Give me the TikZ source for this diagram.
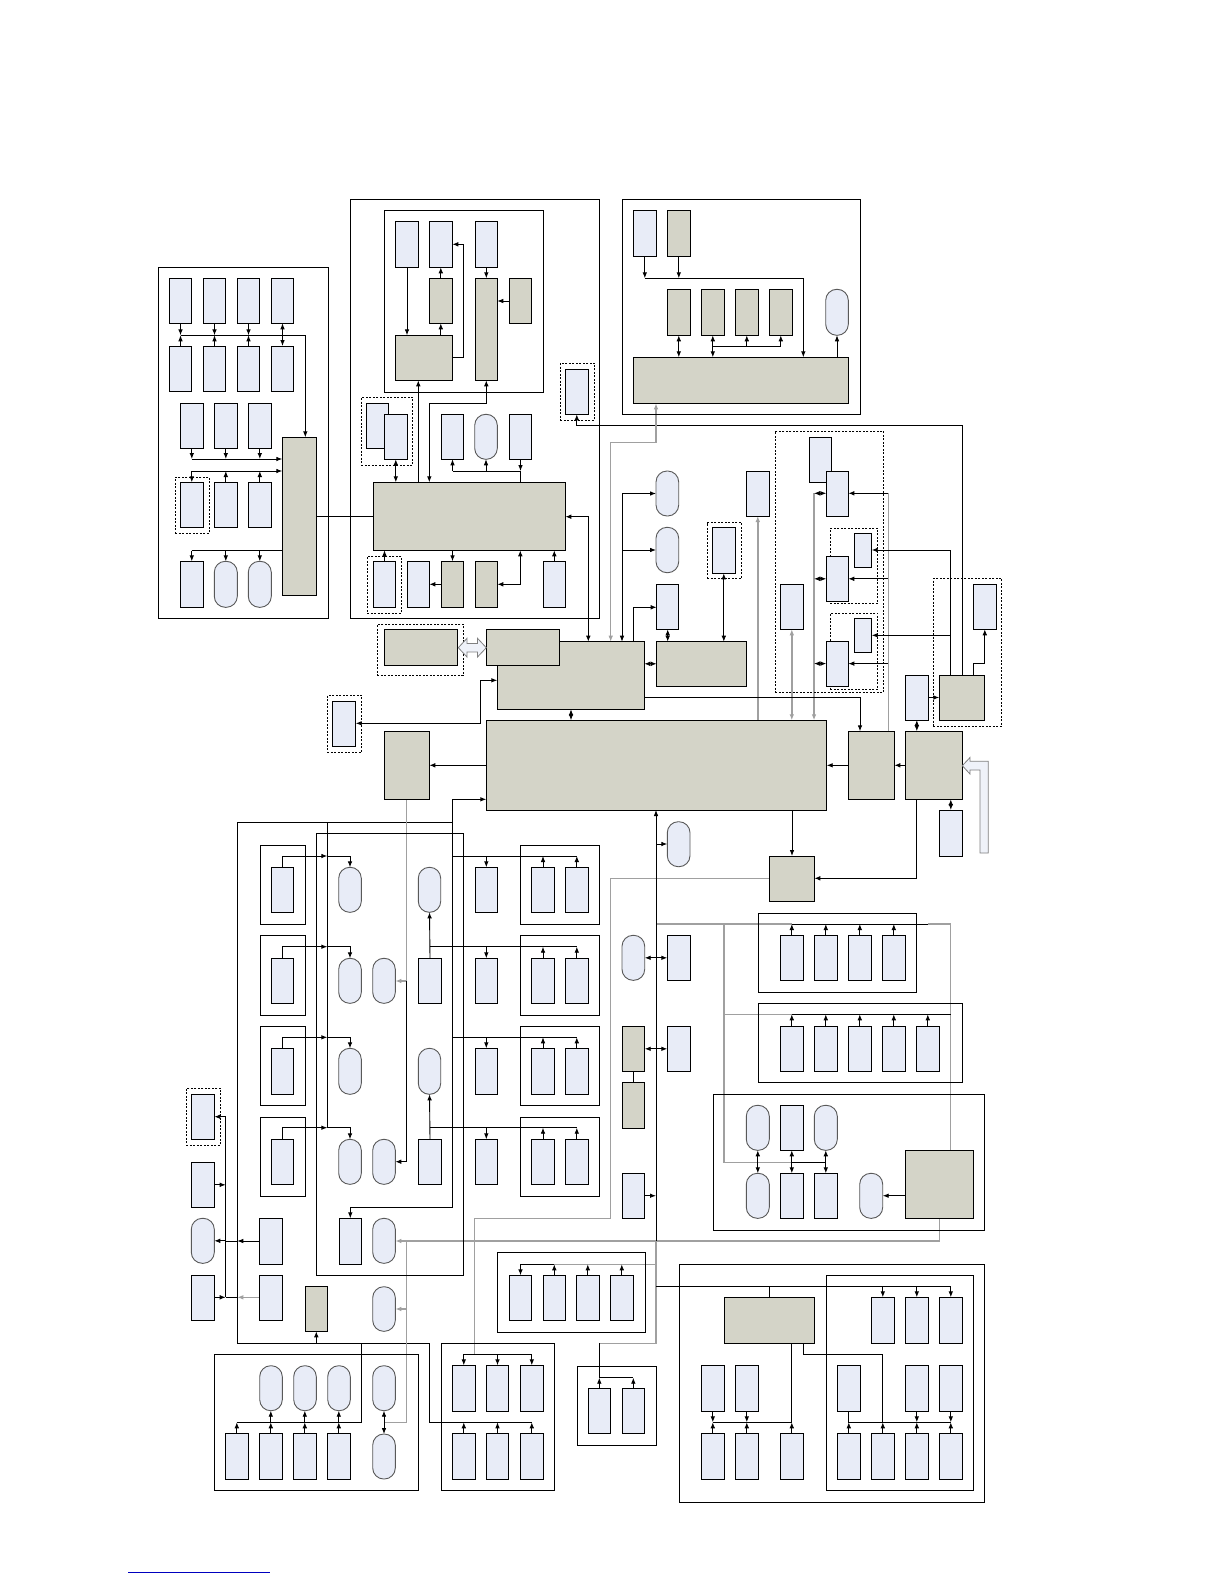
\documentclass[tikz,border=0pt]{standalone}
\usetikzlibrary{arrows.meta}
\definecolor{lbf}{HTML}{E8ECF7}
\definecolor{gbf}{HTML}{D4D4C8}
\definecolor{gln}{HTML}{A0A0A0}
\pgfdeclarelayer{back}
\pgfdeclarelayer{bg}
\pgfsetlayers{back,bg,main}
\newcommand{\bx}[6]{\node[#1,anchor=north west,minimum width={(#5)-(#3)},minimum height={(#6)-(#4)}] (#2) at (#3,-#4) {};}
\tikzset{
  base/.style={rectangle,inner sep=0pt,outer sep=0pt},
  lb/.style={base,draw,fill=lbf,line width=0.9pt},
  gb/.style={base,draw,fill=gbf,line width=0.9pt},
  ov/.style={base,draw=black!65,fill=lbf,line width=0.9pt,rounded corners=11pt},
  frm/.style={base,draw,line width=1pt},
  dsh/.style={base,draw,line width=0.8pt,dash pattern=on 2pt off 1.5pt},
  ln/.style={line width=0.9pt},
  gl/.style={draw=gln,line width=1.4pt},
  hol/.style={fill=lbf!70,draw=gray,line width=0.8pt}
}
\begin{document}
\begin{tikzpicture}[x=1pt,y=1pt,>={Latex[length=6pt,width=4.6pt]}]
\begin{pgfonlayer}{back}
\fill[white] (0,0) rectangle (1224,-1584);
\end{pgfonlayer}
\useasboundingbox (0,0) rectangle (1224,-1584);

% ---------------- left frame
\bx{frm}{LF}{158.3}{267.3}{328.3}{618.3}
\bx{lb}{a1}{169.3}{278.3}{191.7}{323.3}
\bx{lb}{a2}{203.3}{278.3}{225.7}{323.3}
\bx{lb}{a3}{237.3}{278.3}{259.7}{323.3}
\bx{lb}{a4}{271.3}{278.3}{293.7}{323.3}
\bx{lb}{b1}{169.3}{346}{191.7}{391.3}
\bx{lb}{b2}{203.3}{346}{225.7}{391.3}
\bx{lb}{b3}{237.3}{346}{259.7}{391.3}
\bx{lb}{b4}{271.3}{346}{293.7}{391.3}
\bx{lb}{c1}{180.3}{403.3}{203.3}{448.3}
\bx{lb}{c2}{214.3}{403.3}{237.3}{448.3}
\bx{lb}{c3}{248.3}{403.3}{271.3}{448.3}
\bx{dsh}{d1g}{175.3}{477.3}{209.3}{533.3}
\bx{lb}{d1}{180.3}{482.3}{203.3}{527.3}
\bx{lb}{d2}{214.3}{482.3}{237.3}{527.3}
\bx{lb}{d3}{248.3}{482.3}{271.3}{527.3}
\bx{lb}{e1}{180.3}{561.3}{203.3}{607.3}
\bx{ov}{e2}{214.3}{561.3}{237.3}{607.3}
\bx{ov}{e3}{248.3}{561.3}{271.3}{607.3}
\bx{gb}{LG}{282.3}{437.3}{316.3}{595.3}

% ---------------- centre frame
\bx{frm}{CF}{350.3}{199.3}{599.3}{618.3}
\bx{frm}{CFi}{384.3}{210.3}{543.3}{392.3}
\bx{lb}{A}{395.3}{221.3}{418.3}{267.3}
\bx{lb}{B}{429.3}{221.3}{452.3}{267.3}
\bx{lb}{C}{475.3}{221.3}{497.3}{267.3}
\bx{gb}{D}{429.3}{278.3}{452.3}{323.3}
\bx{gb}{E}{395.3}{335.3}{452.3}{380.3}
\bx{gb}{F}{475.3}{278.3}{497.3}{380.3}
\bx{gb}{G}{509.3}{278.3}{531.7}{323.3}
\bx{dsh}{DG}{361.3}{397.3}{412.7}{465.3}
\bx{lb}{DGa}{366.3}{403.3}{388.7}{448.3}
\bx{lb}{DGb}{384.3}{414.3}{407.3}{459.3}
\bx{lb}{h1}{441.3}{414.3}{463.7}{459.3}
\bx{ov}{h2}{474.7}{414.3}{497.3}{459.3}
\bx{lb}{h3}{509.3}{414.3}{531.7}{459.3}
\bx{gb}{CG}{373.3}{482.3}{565.3}{550.3}
\bx{dsh}{BDG}{367.3}{556.3}{401.3}{613.3}
\bx{lb}{BD}{373.3}{561.3}{395.7}{607.3}
\bx{lb}{bx1}{407.3}{561.3}{429.3}{607.3}
\bx{gb}{bg1}{441.3}{561.3}{463.7}{607.3}
\bx{gb}{bg2}{475.3}{561.3}{497.3}{607.3}
\bx{lb}{bx2}{543.3}{561.3}{565.3}{607.3}

% ---------------- top right frame
\bx{frm}{TF}{622}{199.3}{860.3}{414}
\bx{lb}{t1}{633.3}{210.3}{656.3}{256}
\bx{gb}{t2}{667.3}{210.3}{690.3}{256}
\bx{gb}{u1}{667.3}{289.3}{690.3}{335.3}
\bx{gb}{u2}{701.3}{289.3}{724.3}{335.3}
\bx{gb}{u3}{735.3}{289.3}{758.3}{335.3}
\bx{gb}{u4}{769.3}{289.3}{792.3}{335.3}
\bx{ov}{tov}{825.7}{289.3}{848.3}{335.3}
\bx{gb}{TG}{633.3}{357.3}{848.3}{403.3}
\bx{dsh}{SD}{560.3}{363}{594.7}{420}
\bx{lb}{SDi}{565.3}{369.3}{588.3}{414.3}

% ---------------- right upper group
\bx{lb}{R}{746.3}{471}{769.3}{516}
\bx{dsh}{RD}{775.3}{431}{883.7}{692.3}
\bx{lb}{T1}{809.3}{437.3}{831.3}{482.3}
\bx{lb}{T2}{826.3}{471}{848.3}{516}
\bx{lb}{S}{780.3}{584.3}{803.3}{629.3}
\bx{dsh}{UD}{830.3}{528.3}{877.7}{603.3}
\bx{lb}{U1}{854.3}{533.3}{871.7}{567.3}
\bx{lb}{U2}{826.3}{556.3}{848.3}{601.3}
\bx{dsh}{VD}{830.3}{613.3}{877.7}{689.3}
\bx{lb}{V1}{854.3}{618.3}{871.7}{652.3}
\bx{lb}{V2}{826.3}{641.3}{848.3}{686}
\bx{dsh}{WD}{933.3}{578.3}{1001.7}{726.3}
\bx{gb}{W}{939.3}{675}{984.3}{720}
\bx{lb}{Xb}{973.3}{584.3}{996.3}{629.3}
\bx{lb}{Yb}{905.3}{675}{928.3}{720}
\bx{gb}{Z}{905.3}{731.3}{962.3}{799.3}
\bx{gb}{Q}{848.3}{731.3}{894.3}{799.3}
\bx{lb}{AA}{939.3}{810}{962.3}{856}
\bx{gb}{BB}{769.3}{856}{814.3}{901}

% ---------------- middle
\bx{ov}{ov1}{656}{471}{678.7}{516}
\bx{ov}{ov2}{656}{527.3}{678.7}{572.7}
\bx{lb}{I}{656.7}{584.3}{678.7}{629.3}
\bx{dsh}{SD2}{707.3}{522.7}{741.7}{578.3}
\bx{lb}{SD2i}{712.3}{527.3}{735.3}{573.3}
\bx{gb}{H}{497.3}{641.7}{644.3}{709.3}
\bx{gb}{K}{486.3}{629.3}{559.3}{665.3}
\bx{gb}{J}{656.7}{641.7}{746.3}{686}
\bx{dsh}{L}{377.3}{624.3}{463.3}{675.3}
\bx{gb}{Li}{384.3}{629.3}{457.3}{665.3}
\bx{dsh}{M}{327.3}{695.3}{361.7}{752.3}
\bx{lb}{Mi}{332.3}{701.3}{355.7}{746.7}
\bx{gb}{N}{384.3}{731.3}{429.3}{799.3}
\bx{gb}{P}{486.3}{720.3}{826.7}{810}

% hollow arrows
\filldraw[hol] (458.3,-647.7) -- (467,-638.3) -- (467,-643.5) -- (477.5,-643.5) -- (477.5,-638.3) -- (486.3,-647.7) -- (477.5,-657) -- (477.5,-651.9) -- (467,-651.9) -- (467,-657) -- cycle;
\filldraw[hol] (962.3,-765.7) -- (970,-757.5) -- (970,-761.3) -- (988.3,-761.3) -- (988.3,-853) -- (980,-853) -- (980,-770) -- (970,-770) -- (970,-774) -- cycle;

% ---------------- lower left
\bx{frm}{IF}{316.3}{833.3}{463.3}{1275}
\foreach \n/\t/\b/\bt/\bb in {1/845/924/867.3/912.3,2/935.3/1015/958.3/1003.3,3/1026.3/1105.3/1048.3/1094.3,4/1117.3/1196/1139.3/1184.3}{
  \bx{frm}{sf\n}{260.3}{\t}{305.3}{\b}
  \bx{lb}{sb\n}{271.3}{\bt}{293.7}{\bb}
  \bx{ov}{oc\n}{338.7}{\bt}{361.3}{\bb}
  \bx{lb}{cb\n}{475.3}{\bt}{497.3}{\bb}
  \bx{frm}{rf\n}{520.3}{\t}{599.3}{\b}
  \bx{lb}{rfa\n}{531.3}{\bt}{554.7}{\bb}
  \bx{lb}{rfb\n}{565.3}{\bt}{588.3}{\bb}
}
\bx{ov}{od2}{372.7}{958.3}{395.3}{1003.3}
\bx{ov}{od4}{372.7}{1139.3}{395.3}{1184.3}
\bx{ov}{oe1}{418.3}{867.3}{440.7}{912.3}
\bx{lb}{be2}{418.3}{958.3}{441.7}{1003.3}
\bx{ov}{oe3}{418.3}{1048.3}{440.7}{1094.3}
\bx{lb}{be4}{418.3}{1139.3}{441.7}{1184.3}
\bx{dsh}{LD}{186.3}{1088.3}{220.7}{1145}
\bx{lb}{ld}{191.3}{1094.3}{214.3}{1139.3}
\bx{lb}{lb1}{191.3}{1162.3}{214.3}{1207.3}
\bx{ov}{lo}{191.3}{1218.3}{214.3}{1263.3}
\bx{lb}{lb2}{191.3}{1275.7}{214.3}{1320.3}
\bx{lb}{ob1}{259.3}{1218.3}{282.3}{1264.3}
\bx{lb}{ob2}{259.3}{1275.7}{282.3}{1320.3}
\bx{gb}{ogb}{305.3}{1286.7}{327.3}{1331.3}
\bx{lb}{ib}{339.3}{1218.3}{361.3}{1264.3}
\bx{ov}{oo1}{372.7}{1218.3}{395.3}{1263.3}
\bx{ov}{oo2}{372.7}{1286.7}{395.3}{1331.3}
% bottom left frame
\bx{frm}{BLF}{214.3}{1354}{418.3}{1490}
\bx{ov}{blo1}{259.7}{1365.7}{282.3}{1410.7}
\bx{ov}{blo2}{293.7}{1365.7}{316.3}{1410.7}
\bx{ov}{blo3}{327.7}{1365.7}{350.3}{1410.7}
\bx{ov}{blo4}{372.7}{1365.7}{395.3}{1410.7}
\bx{lb}{blb1}{225.3}{1433.3}{248.3}{1479}
\bx{lb}{blb2}{259.3}{1433.3}{282.3}{1479}
\bx{lb}{blb3}{293.3}{1433.3}{316.3}{1479}
\bx{lb}{blb4}{327.3}{1433.3}{350.3}{1479}
\bx{ov}{blo5}{372.7}{1434}{395.3}{1479}

% ---------------- middle column
\bx{ov}{mo1}{667.3}{821.7}{690}{866.7}
\bx{ov}{mo2}{622}{935.3}{644.7}{980.3}
\bx{lb}{mb1}{667.3}{935.3}{690.3}{980.3}
\bx{gb}{mg1}{622}{1026.3}{644.7}{1071.3}
\bx{lb}{mb2}{667.3}{1026.3}{690.3}{1071.3}
\bx{gb}{mg2}{622}{1082.3}{644.7}{1128}
\bx{lb}{mb3}{622}{1173.3}{644.7}{1218.3}

% ---------------- right middle frames
\bx{frm}{fr1}{758.3}{913.3}{916.3}{992.3}
\bx{lb}{f1a}{780.3}{935.3}{803.3}{980.3}
\bx{lb}{f1b}{814.3}{935.3}{837.3}{980.3}
\bx{lb}{f1c}{848.3}{935.3}{871.3}{980.3}
\bx{lb}{f1d}{882.3}{935.3}{905.3}{980.3}
\bx{frm}{fr2}{758.3}{1003.3}{962.3}{1082.3}
\bx{lb}{f2a}{780.3}{1026.3}{803.3}{1071.3}
\bx{lb}{f2b}{814.3}{1026.3}{837.3}{1071.3}
\bx{lb}{f2c}{848.3}{1026.3}{871.3}{1071.3}
\bx{lb}{f2d}{882.3}{1026.3}{905.3}{1071.3}
\bx{lb}{f2e}{916.3}{1026.3}{939.3}{1071.3}
\bx{frm}{fr3}{713.3}{1094.3}{984.3}{1230}
\bx{ov}{f3o1}{746.3}{1105.3}{769.3}{1150.3}
\bx{lb}{f3b1}{780.3}{1105.3}{803.3}{1150.3}
\bx{ov}{f3o2}{814.3}{1105.3}{837.3}{1150.3}
\bx{ov}{f3o3}{746.3}{1173.3}{769.3}{1218.3}
\bx{lb}{f3b2}{780.3}{1173.3}{803.3}{1218.3}
\bx{lb}{f3b3}{814.3}{1173.3}{837.3}{1218.3}
\bx{ov}{f3o4}{859.7}{1173.3}{882.7}{1218.3}
\bx{gb}{f3g}{905.3}{1150.3}{973.3}{1218.3}

% ---------------- bottom middle
\bx{frm}{sf5}{497.3}{1252.3}{645.3}{1332.3}
\bx{lb}{s5a}{509.3}{1275.3}{531.7}{1320.3}
\bx{lb}{s5b}{543.3}{1275.3}{565.3}{1320.3}
\bx{lb}{s5c}{576.3}{1275.3}{599.3}{1320.3}
\bx{lb}{s5d}{610.3}{1275.3}{633.3}{1320.3}
\bx{frm}{bmf}{441.3}{1343.3}{554.7}{1490}
\bx{lb}{bm1}{452.3}{1365.3}{475.3}{1411}
\bx{lb}{bm2}{486.3}{1365.3}{508.7}{1411}
\bx{lb}{bm3}{520.3}{1365.3}{543.3}{1411}
\bx{lb}{bm4}{452.3}{1433.3}{475.3}{1479}
\bx{lb}{bm5}{486.3}{1433.3}{508.7}{1479}
\bx{lb}{bm6}{520.3}{1433.3}{543.3}{1479}
\bx{frm}{sf6}{577.3}{1366.3}{656.3}{1445.3}
\bx{lb}{s6a}{588.3}{1388.3}{610.3}{1433.3}
\bx{lb}{s6b}{622.3}{1388.3}{644.3}{1433.3}

% ---------------- bottom right
\bx{frm}{brf}{679.3}{1264.3}{984.3}{1502}
\bx{frm}{brif}{826.3}{1275.7}{973.3}{1490}
\bx{gb}{brg}{724.3}{1297.3}{814.3}{1343.3}
\bx{lb}{r1a}{871.3}{1297.3}{894.3}{1343.3}
\bx{lb}{r1b}{905.3}{1297.3}{928.3}{1343.3}
\bx{lb}{r1c}{939.3}{1297.3}{962.3}{1343.3}
\bx{lb}{r2a}{837.3}{1365.3}{860.3}{1411}
\bx{lb}{r2b}{905.3}{1365.3}{928.3}{1411}
\bx{lb}{r2c}{939.3}{1365.3}{962.3}{1411}
\bx{lb}{r3a}{837.3}{1433.3}{860.3}{1479}
\bx{lb}{r3b}{871.3}{1433.3}{894.3}{1479}
\bx{lb}{r3c}{905.3}{1433.3}{928.3}{1479}
\bx{lb}{r3d}{939.3}{1433.3}{962.3}{1479}
\bx{lb}{l2a}{701.3}{1365.3}{724.3}{1411}
\bx{lb}{l2b}{735.3}{1365.3}{758.3}{1411}
\bx{lb}{l3a}{701.3}{1433.3}{724.3}{1479}
\bx{lb}{l3b}{735.3}{1433.3}{758.3}{1479}
\bx{lb}{l3c}{780.3}{1433.3}{803.3}{1479}

\draw[blue!75!black,line width=0.8pt] (128.3,-1572.5) -- (269.7,-1572.5);

% ================= connectors
\begin{pgfonlayer}{bg}
% left frame
\draw[ln,->] (180.5,-335.3) -| (305.3,-437.3);
\foreach \x in {180.5,214.5,248.5}{\draw[ln,->] (\x,-323.3) -- (\x,-335.3); \draw[ln,->] (\x,-346) -- (\x,-335.3);}
\draw[ln,<->] (a4.south) -- (b4.north);
\draw[ln,->] (191.8,-459) -- (282.3,-459);
\foreach \x in {191.8,225.8,259.8}{\draw[ln,->] (\x,-448.3) -- (\x,-459);}
\draw[ln,->] (191.8,-471) -- (282.3,-471);
\draw[ln,->] (191.8,-471) -- (d1.north);
\draw[ln,->] (d2.north) -- (225.8,-471);
\draw[ln,->] (d3.north) -- (259.8,-471);
\draw[ln] (191.8,-550.7) -- (282.3,-550.7);
\foreach \x in {191.8,225.8,259.8}{\draw[ln,->] (\x,-550.7) -- (\x,-561.3);}
\draw[ln] (316.3,-516.7) -- (373.3,-516.7);
% centre frame
\draw[ln,->] (407,-267.3) -- (407,-335.3);
\draw[ln,->] (440.8,-278.3) -- (440.8,-267.3);
\draw[ln,->] (440.8,-335.3) -- (440.8,-323.3);
\draw[ln,->] (452.3,-357) -- (463.3,-357) -- (463.3,-244.3) -- (452.3,-244.3);
\draw[ln,->] (C.south) -- (F.north);
\draw[ln,->] (509.3,-301) -- (497.3,-301);
\draw[ln,<->] (395.8,-459.3) -- (395.8,-482.3);
\draw[ln,->] (418.3,-482.3) -- (418.3,-380.3);
\draw[ln,<->] (486.3,-380.3) -- (486.3,-403.3) -- (429.3,-403.3) -- (429.3,-482.3);
\draw[ln] (452.5,-471) -- (520.5,-471) -- (520.5,-482.3);
\draw[ln,->] (452.5,-471) -- (452.5,-459.3);
\draw[ln,->] (486,-471) -- (486,-459.3);
\draw[ln,->] (520.5,-459.3) -- (520.5,-471);
\draw[ln,->] (384.5,-561.3) -- (384.5,-550.3);
\draw[ln,->] (452.5,-550.3) -- (452.5,-561.3);
\draw[ln,->] (441.3,-584.3) -- (429.3,-584.3);
\draw[ln,<->] (497.3,-584.3) -- (520.3,-584.3) -- (520.3,-550.3);
\draw[ln,->] (554.3,-561.3) -- (554.3,-550.3);
\draw[ln,<->] (565.3,-516.7) -- (588.3,-516.7) -- (588.3,-641.7);
% top right frame
\draw[ln,->] (644.8,-256) -- (644.8,-278.3);
\draw[ln,->] (678.8,-256) -- (678.8,-278.3);
\draw[ln,->] (644.8,-278.3) -- (803.3,-278.3) -- (803.3,-357.3);
\draw[ln,<->] (678.8,-335.3) -- (678.8,-357.3);
\draw[ln,<->] (712.8,-335.3) -- (712.8,-357.3);
\draw[ln] (712.8,-346) -- (780.8,-346);
\draw[ln,->] (746.8,-346) -- (746.8,-335.3);
\draw[ln,->] (780.8,-346) -- (780.8,-335.3);
\draw[ln,->] (837,-357.3) -- (837,-335.3);
\draw[ln,->] (962.3,-675) -- (962.3,-425.7) -- (576.8,-425.7) -- (576.8,-414.3);
\draw[gl,<->] (656,-403.3) -- (656,-442.3) -- (610.7,-442.3) -- (610.7,-641.7);
% right upper group
\draw[gl,->] (757.8,-720.3) -- (757.8,-516);
\draw[gl,<->] (791.8,-629.3) -- (791.8,-720.3);
\draw[gl,->] (814,-493.3) -- (814,-720.3);
\foreach \y in {493.3,578.8,663.6}{\draw[ln,<->] (814,-\y) -- (826.3,-\y); \draw[ln,->] (888.3,-\y) -- (848.3,-\y);}
\draw[gl] (888.3,-493.3) -- (888.3,-731.3);
\draw[ln,->] (950.7,-675) -- (950.7,-550) -- (871.7,-550);
\draw[ln,->] (950.7,-635.3) -- (871.7,-635.3);
\draw[ln,->] (973.3,-675) -- (973.3,-663.3) -- (984.8,-663.3) -- (984.8,-629.3);
\draw[ln,->] (928.3,-697.5) -- (939.3,-697.5);
\draw[ln,<->] (916.8,-720) -- (916.8,-731.3);
\draw[ln,->] (905.3,-765.3) -- (894.3,-765.3);
\draw[ln,->] (848.3,-765.3) -- (826.7,-765.3);
\draw[ln,<->] (950.8,-799.3) -- (950.8,-810);
\draw[ln,->] (916.8,-799.3) -- (916.8,-878.3) -- (814.3,-878.3);
\draw[ln,->] (792,-810) -- (792,-856);
\draw[ln,->] (644.3,-697.7) -- (860,-697.7) -- (860,-731.3);
% middle
\draw[ln,->] (622,-493.5) -- (656,-493.5);
\draw[ln,->] (622,-550) -- (656,-550);
\draw[ln,->] (622,-493.5) -- (622,-641.7);
\draw[ln,->] (633.3,-641.7) -- (633.3,-607.3) -- (656.7,-607.3);
\draw[ln,<->] (667.7,-629.3) -- (667.7,-641.7);
\draw[ln,<->] (644.3,-663.8) -- (656.7,-663.8);
\draw[ln,<->] (723.8,-573.3) -- (723.8,-641.7);
\draw[ln,<->] (497.3,-680.3) -- (480.7,-680.3) -- (480.7,-723.3) -- (355.7,-723.3);
\draw[ln,->] (486.3,-765.3) -- (429.3,-765.3);
\draw[ln,<->] (571,-709.3) -- (571,-720.3);
% lower left bus network
\draw[ln,->] (452.3,-799.3) -- (486.3,-799.3);
\draw[ln,->] (452.3,-799.3) -- (452.3,-1207.3) -- (350.3,-1207.3) -- (350.3,-1218.3);
\draw[ln] (452.3,-822.3) -- (237.3,-822.3) -- (237.3,-1343.3) -- (429.3,-1343.3) -- (429.3,-1422.3) -- (531.8,-1422.3);
\draw[ln] (327.3,-822.3) -- (327.3,-1127.7);
\draw[ln] (361.3,-1343.3) -- (361.3,-1422.3) -- (236.8,-1422.3);
\draw[ln,->] (236.8,-1433.3) -- (236.8,-1422.3);
\foreach \x in {270.8,304.8,338.8}{\draw[ln,->] (\x,-1422.3) -- (\x,-1410.7); \draw[ln,->] (\x,-1433.3) -- (\x,-1422.3);}
\draw[ln,->] (316.3,-1343.3) -- (316.3,-1331.3);
\foreach \y/\t in {856/867.3,946.7/958.3,1037.3/1048.3,1127.7/1139.3}{
  \draw[ln,->] (282.5,-\t) -- (282.5,-\y) -- (327.3,-\y);
  \draw[ln,->] (327.3,-\y) -- (350,-\y) -- (350,-\t);
  \draw[ln,->] (486.3,-\y) -- (486.3,-\t);
  \draw[ln,->] (543,-\t) -- (543,-\y);
  \draw[ln,->] (576.8,-\t) -- (576.8,-\y);
}
\draw[ln] (452.3,-856) -- (576.8,-856);
\draw[ln] (429.8,-946.7) -- (576.8,-946.7);
\draw[ln] (452.3,-1037.3) -- (576.8,-1037.3);
\draw[ln] (429.8,-1127.7) -- (576.8,-1127.7);
\draw[ln,->] (be2.north) -- (oe1.south);
\draw[ln,->] (be4.north) -- (oe3.south);
\draw[gl,->] (406.7,-799.3) -- (406.7,-981) -- (395.3,-981);
\draw[ln,->] (406.7,-981) -- (406.7,-1161.7) -- (395.3,-1161.7);
\draw[ln] (225.7,-1116.7) -- (225.7,-1297.3);
\draw[ln,->] (225.7,-1116.7) -- (214.3,-1116.7);
\draw[ln,->] (214.3,-1184.8) -- (225.7,-1184.8);
\draw[ln,->] (225.7,-1240.8) -- (214.3,-1240.8);
\draw[ln,->] (214.3,-1297.3) -- (225.7,-1297.3);
\draw[ln,->] (259.3,-1241) -- (237.3,-1241);
\draw[ln] (237.3,-1241) -- (225.7,-1241);
\draw[gl,->] (259.3,-1297.3) -- (237.3,-1297.3);
\draw[ln] (237.3,-1297.3) -- (225.7,-1297.3);
\draw[gl,->] (939.3,-1218.3) -- (939.3,-1241) -- (395.3,-1241);
\draw[gl,->] (406.7,-1241) -- (406.7,-1309) -- (395.3,-1309);
\draw[gl] (406.7,-1309) -- (406.7,-1422.3) -- (384,-1422.3);
\draw[ln,<->] (384,-1410.7) -- (384,-1434);
% middle column
\draw[gl] (769.3,-878.3) -- (610.7,-878.3) -- (610.7,-1218.3) -- (474.7,-1218.3) -- (474.7,-1354);
\draw[ln] (463.8,-1354) -- (531.8,-1354);
\foreach \x in {463.8,497.5,531.8}{\draw[ln,->] (\x,-1354) -- (\x,-1365.3); \draw[ln,->] (\x,-1433.3) -- (\x,-1422.3);}
\draw[gl] (656,-924) -- (792,-924);
\draw[ln] (792,-924) -- (928.3,-924);
\draw[gl] (928.3,-924) -- (950.7,-924) -- (950.7,-1150.3);
\foreach \x in {791.8,825.8,859.8,893.8}{\draw[ln,->] (\x,-935.3) -- (\x,-924);}
\draw[gl] (724,-924) -- (724,-1162.3) -- (792,-1162.3);
\draw[gl] (724,-1014.3) -- (792,-1014.3);
\draw[ln] (792,-1014.3) -- (950.7,-1014.3);
\foreach \x in {791.8,825.8,859.8,893.8,927.8}{\draw[ln,->] (\x,-1026.3) -- (\x,-1014.3);}
\draw[ln] (792,-1162.3) -- (825.8,-1162.3);
\foreach \x in {757.8,791.8,825.8}{\draw[ln,<->] (\x,-1150.3) -- (\x,-1173.3);}
\draw[ln,->] (905.3,-1195.7) -- (882.7,-1195.7);
\draw[gl] (656,-1241) -- (656,-1343.3) -- (599.3,-1343.3);
\draw[ln,->] (656,-1241) -- (656,-810);
\draw[ln,->] (656,-844) -- (667.3,-844);
\draw[ln,<->] (644.7,-957.8) -- (667.3,-957.8);
\draw[ln,<->] (644.7,-1048.8) -- (667.3,-1048.8);
\draw[ln] (633.3,-1071.3) -- (633.3,-1082.3);
\draw[ln,->] (644.7,-1195.7) -- (656,-1195.7);
\draw[ln] (599.3,-1343.3) -- (599.3,-1377.7) -- (633.3,-1377.7);
\draw[ln,->] (599.3,-1388.3) -- (599.3,-1377.7);
\draw[ln,->] (633.3,-1388.3) -- (633.3,-1377.7);
\draw[ln] (520.5,-1264.3) -- (554.3,-1264.3);
\draw[gl] (554.3,-1264.3) -- (656,-1264.3);
\draw[ln,->] (520.5,-1264.3) -- (520.5,-1275.3);
\foreach \x in {554.3,587.8,621.8}{\draw[ln,->] (\x,-1275.3) -- (\x,-1264.3);}
% bottom right
\draw[ln] (656,-1286.3) -- (950.8,-1286.3);
\draw[ln] (769.3,-1286.3) -- (769.3,-1297.3);
\foreach \x in {882.8,916.8,950.8}{\draw[ln,->] (\x,-1286.3) -- (\x,-1297.3);}
\draw[ln] (848.8,-1411) -- (848.8,-1422.3) -- (950.8,-1422.3);
\draw[ln,->] (848.8,-1433.3) -- (848.8,-1422.3);
\draw[ln] (803.3,-1343.3) -- (803.3,-1354) -- (882.8,-1354) -- (882.8,-1422.3);
\draw[ln,->] (882.8,-1433.3) -- (882.8,-1422.3);
\foreach \x in {916.8,950.8}{\draw[ln,->] (\x,-1411) -- (\x,-1422.3); \draw[ln,->] (\x,-1433.3) -- (\x,-1422.3);}
\draw[ln] (712.8,-1422.3) -- (791.8,-1422.3) -- (791.8,-1343.3);
\foreach \x in {712.8,746.8}{\draw[ln,->] (\x,-1411) -- (\x,-1422.3); \draw[ln,->] (\x,-1433.3) -- (\x,-1422.3);}
\draw[ln,->] (791.8,-1433.3) -- (791.8,-1422.3);
\end{pgfonlayer}
\end{tikzpicture}
\end{document}
